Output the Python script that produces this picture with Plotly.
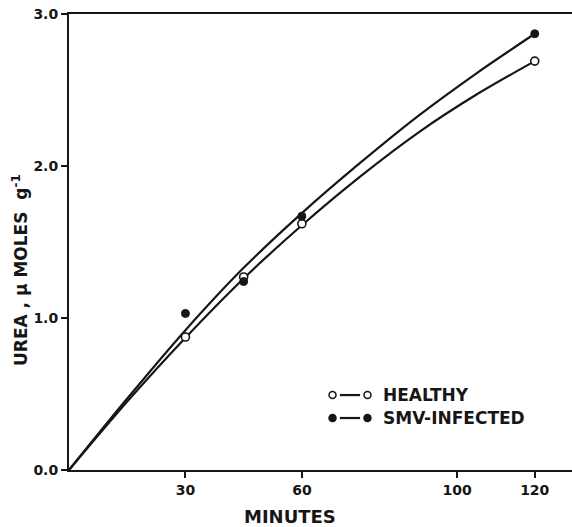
import plotly.graph_objects as go

# Measured points (minutes, urea µmoles/g)
minutes_pts = [30, 45, 60, 120]
healthy_pts = [0.875, 1.27, 1.62, 2.69]
smv_pts = [1.03, 1.24, 1.67, 2.87]

# Fitted curves
curve_minutes = [0, 15, 30, 45, 60, 75, 90, 105, 120]
healthy_curve = [0, 0.45, 0.87, 1.26, 1.61, 1.93, 2.22, 2.47, 2.69]
smv_curve = [0, 0.47, 0.92, 1.33, 1.69, 2.02, 2.33, 2.61, 2.87]

x_tickvals = [30, 60, 100, 120]
x_ticktext = ["30", "60", "100", "120"]
y_tickvals = [0, 1, 2, 3]
y_ticktext = ["0.0", "1.0", "2.0", "3.0"]

legend_labels = ["HEALTHY", "SMV-INFECTED"]

INK = "#161616"
FONT = dict(family="DejaVu Sans", color=INK)

fig = go.Figure()

fig.add_trace(go.Scatter(x=curve_minutes, y=healthy_curve, mode="lines",
                         line=dict(color=INK, width=2.2, shape="spline", smoothing=0.8),
                         showlegend=False, hoverinfo="skip"))
fig.add_trace(go.Scatter(x=curve_minutes, y=smv_curve, mode="lines",
                         line=dict(color=INK, width=2.2, shape="spline", smoothing=0.8),
                         showlegend=False, hoverinfo="skip"))
fig.add_trace(go.Scatter(x=minutes_pts, y=healthy_pts, mode="markers",
                         marker=dict(symbol="circle", size=8, color="white",
                                     line=dict(color=INK, width=1.6)),
                         showlegend=False))
fig.add_trace(go.Scatter(x=minutes_pts, y=smv_pts, mode="markers",
                         marker=dict(symbol="circle", size=8, color=INK,
                                     line=dict(color=INK, width=1)),
                         showlegend=False))

# Hand-drawn style legend
leg_y = [0.493, 0.342]
leg_x0, leg_x1 = 67.9, 76.9
fills = ["white", INK]
for yy, lab, fc in zip(leg_y, legend_labels, fills):
    fig.add_shape(type="line", x0=leg_x0 + 1.9, x1=leg_x1 - 1.9, y0=yy, y1=yy,
                  line=dict(color=INK, width=2.2))
    for xx in (leg_x0, leg_x1):
        fig.add_shape(type="circle", xsizemode="pixel", ysizemode="pixel",
                      xanchor=xx, yanchor=yy, x0=-3.5, x1=3.5, y0=-3.5, y1=3.5,
                      fillcolor=fc, line=dict(color=INK, width=1.5))
    fig.add_annotation(x=80.5, y=yy, text=lab, showarrow=False, xanchor="left",
                       yanchor="middle", font=dict(size=17, weight="bold", **FONT))

fig.add_annotation(xref="paper", yref="paper", x=-0.0974, y=0.4386,
                   text="UREA , \u03bc MOLES  g<sup>-1</sup>", textangle=-90,
                   showarrow=False, xanchor="center", yanchor="middle",
                   font=dict(size=17, weight="bold", **FONT))
fig.add_annotation(xref="paper", yref="paper", x=0.439, y=-0.103,
                   text="MINUTES", showarrow=False, xanchor="center", yanchor="middle",
                   font=dict(size=18, weight="bold", **FONT))

fig.update_xaxes(range=[0, 129.6], tickvals=x_tickvals, ticktext=x_ticktext,
                 showline=True, linecolor=INK, linewidth=2, mirror=True,
                 ticks="outside", ticklen=6, tickwidth=2, tickcolor=INK,
                 showgrid=False, zeroline=False,
                 tickfont=dict(size=14, weight="bold", **FONT))
fig.update_yaxes(range=[0, 3.0], tickvals=y_tickvals, ticktext=y_ticktext,
                 showline=True, linecolor=INK, linewidth=2,
                 ticks="outside", ticklen=6, tickwidth=2, tickcolor=INK,
                 showgrid=False, zeroline=False,
                 tickfont=dict(size=14, weight="bold", **FONT))

fig.update_layout(width=572, height=527, margin=dict(l=69, r=0, t=14, b=57),
                  paper_bgcolor="white", plot_bgcolor="white", showlegend=False)

fig.write_html("out.html")
